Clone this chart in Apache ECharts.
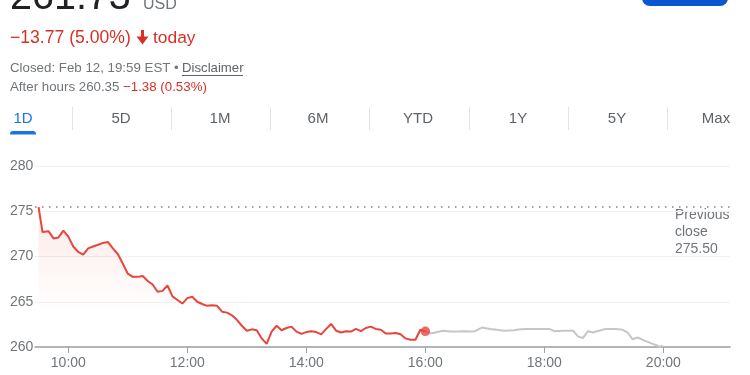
<!DOCTYPE html>
<html><head><meta charset="utf-8">
<script src="https://cdn.jsdelivr.net/npm/echarts@6/dist/echarts.min.js"></script>
<style>html,body{margin:0;padding:0;background:#fff;overflow:hidden}#c{width:750px;height:375px}</style>
</head><body><div id="c"></div>
<script>
// ---- data ----
const regularTimes = ['09:30','09:34','09:40','09:45','09:50','09:55','10:00','10:05','10:10','10:15','10:20','10:25','10:30','10:35','10:40','10:45','10:50','10:55','11:00','11:05','11:10','11:15','11:20','11:25','11:30','11:35','11:40','11:45','11:50','11:55','12:00','12:05','12:10','12:15','12:20','12:25','12:30','12:35','12:40','12:45','12:50','12:55','13:00','13:05','13:10','13:15','13:20','13:25','13:30','13:35','13:40','13:45','13:50','13:55','14:00','14:05','14:10','14:15','14:20','14:25','14:30','14:35','14:40','14:45','14:50','14:55','15:00','15:05','15:10','15:15','15:20','15:25','15:30','15:35','15:40','15:45','15:50','15:55','16:00'];
const regularValues = [275.45,272.7,272.8,272.0,272.1,272.85,272.2,271.1,270.5,270.2,270.9,271.1,271.3,271.5,271.6,270.9,270.25,269.2,268.1,267.75,267.75,267.85,267.3,266.9,266.1,266.2,266.8,265.6,265.2,264.8,265.4,265.55,265.0,264.75,264.55,264.6,264.55,263.9,263.8,263.5,263.0,262.35,261.8,261.95,261.85,260.95,260.35,261.7,262.35,261.85,262.1,262.25,261.7,261.45,261.65,261.75,261.65,261.4,262.0,262.55,261.8,261.6,261.75,261.7,262.0,261.75,262.1,262.25,262.0,261.9,261.5,261.5,261.55,261.4,260.95,260.8,260.8,261.9,261.73];
const afterTimes = ['16:00','16:05','16:10','16:18','16:25','16:32','16:38','16:45','16:50','16:57','17:05','17:12','17:19','17:29','17:36','17:42','17:52','18:05','18:10','18:19','18:29','18:34','18:39','18:44','18:49','18:55','19:02','19:12','19:19','19:24','19:29','19:34','19:41','19:48','19:53','19:57','19:59'];
const afterValues = [261.73,261.5,261.6,261.8,261.7,261.7,261.75,261.7,261.75,262.15,262.0,261.9,261.8,261.85,261.95,262.0,262.0,262.0,261.75,261.8,261.8,261.15,261.0,261.75,261.6,261.8,262.0,262.0,261.9,261.6,260.85,261.05,260.7,260.4,260.2,260.0,260.2];
const prevClose = 275.50;
const yMin = 260, yMax = 280, yStep = 5;
const xTickLabels = ['10:00','12:00','14:00','16:00','18:00','20:00'];
const tabs = ['1D','5D','1M','6M','YTD','1Y','5Y','Max'];
const priceText = '261.73';
const currencyText = 'USD';
const changeText = '\u221213.77 (5.00%)';
const closedText = 'Closed: Feb 12, 19:59 EST \u2022 ';
const afterLabel = 'After hours 260.35 ';
const afterChange = '\u22121.38 (0.53%)';

// ---- helpers ----
const toMin = t => { const p = t.split(':'); return (+p[0]) * 60 + (+p[1]); };
const fmt = m => String(Math.floor(m / 60)).padStart(2, '0') + ':' + String(Math.round(m % 60)).padStart(2, '0');
const regular = regularTimes.map((t, i) => [toMin(t), regularValues[i]]);
const after = afterTimes.map((t, i) => [toMin(t), afterValues[i]]);
const lastPt = regular[regular.length - 1];
const tickMins = xTickLabels.map(toMin);

const FONT = 'Liberation Sans, Arial, sans-serif';
const RED = '#d93025';
const LINE_RED = '#e8453c';
const GREY = '#70757a';

const g = [];
// header
g.push({type:'rect', shape:{x:642, y:-10, width:86, height:16, r:8}, style:{fill:'#0b57d0'}});
g.push({type:'text', x:10, y:-1.5, style:{text:priceText, font:'39.5px ' + FONT, fill:'#202124', verticalAlign:'middle'}});
g.push({type:'text', x:143, y:5, style:{text:currencyText, font:'16px ' + FONT, fill:GREY, verticalAlign:'middle'}});
g.push({type:'text', x:10, y:38, style:{text:changeText, font:'17.6px ' + FONT, fill:RED, verticalAlign:'middle'}});
g.push({type:'polygon', shape:{points:[[141,30],[144,30],[144,36.5],[148.5,36.5],[142.5,44.5],[136.5,36.5],[141,36.5]]}, style:{fill:RED}});
g.push({type:'text', x:153, y:38, style:{text:'today', font:'17.4px ' + FONT, fill:RED, verticalAlign:'middle'}});
g.push({type:'text', x:10, y:68, style:{text:closedText, font:'13.3px ' + FONT, fill:GREY, verticalAlign:'middle'}});
g.push({type:'text', x:182, y:68, style:{text:'Disclaimer', font:'13.2px ' + FONT, fill:'#5f6368', verticalAlign:'middle'}});
g.push({type:'line', shape:{x1:182, y1:75.5, x2:243, y2:75.5}, style:{stroke:'#5f6368', lineWidth:1}});
g.push({type:'text', x:10, y:87, style:{text:afterLabel, font:'13.3px ' + FONT, fill:GREY, verticalAlign:'middle'}});
g.push({type:'text', x:123, y:87, style:{text:afterChange, font:'13.3px ' + FONT, fill:RED, verticalAlign:'middle'}});
// tabs
const tabX = [23, 121, 220, 318, 418, 518, 617, 716];
const sepX = [72, 171, 270, 369, 469, 568, 667];
tabs.forEach((t, i) => {
  g.push({type:'text', x:tabX[i], y:119, style:{text:t, font:'15px ' + FONT, fill: i === 0 ? '#1a73e8' : '#5f6368', align:'center', verticalAlign:'middle'}});
});
sepX.forEach(x => g.push({type:'line', shape:{x1:x + 0.5, y1:107, x2:x + 0.5, y2:130}, style:{stroke:'#e3e3e3', lineWidth:1}}));
g.push({type:'rect', shape:{x:10, y:131, width:26, height:3.5, r:[3,3,0,0]}, style:{fill:'#1a73e8'}});
// previous close label
g.push({type:'text', x:675, y:206.5, style:{text:'Previous\nclose\n' + prevClose.toFixed(2), font:'14px ' + FONT, fill:GREY, lineHeight:17, verticalAlign:'top'}});

const chart = echarts.init(document.getElementById('c'), null, {renderer:'canvas'});
chart.setOption({
  animation:false,
  backgroundColor:'#fff',
  grid:{left:35, right:20, top:166, bottom:28, containLabel:false},
  xAxis:{
    type:'value', min:566.4, max:1267.2,
    axisLine:{show:true, lineStyle:{color:'#9aa0a6', width:1.5}},
    axisTick:{show:true, customValues:tickMins, length:6, lineStyle:{color:'#9aa0a6'}},
    axisLabel:{show:true, customValues:tickMins, formatter:v => fmt(v), color:GREY, fontSize:14, fontFamily:FONT, margin:9},
    splitLine:{show:false}
  },
  yAxis:{
    type:'value', min:yMin, max:yMax, interval:yStep,
    axisLine:{show:false}, axisTick:{show:false},
    axisLabel:{color:GREY, fontSize:14, fontFamily:FONT, align:'left', margin:25},
    splitLine:{show:true, lineStyle:{color:'#f1f1f1', width:1}}
  },
  graphic:g,
  series:[
    {
      type:'line', data:after, showSymbol:false, symbol:'none', z:2,
      lineStyle:{color:'#c6c6c6', width:2}, silent:true
    },
    {
      type:'line', data:regular, showSymbol:false, symbol:'none', z:3,
      lineStyle:{color:LINE_RED, width:2},
      areaStyle:{color:{type:'linear', x:0, y:0, x2:0, y2:1, colorStops:[
        {offset:0, color:'rgba(234,67,53,0.17)'},
        {offset:0.75, color:'rgba(234,67,53,0)'}
      ]}},
      markLine:{silent:true, symbol:['none','none'], label:{show:false},
        lineStyle:{color:'#80868b', width:1.5, type:[1.5,5.5]},
        data:[{yAxis:prevClose}]}
    },
    {
      type:'scatter', data:[lastPt], symbol:'circle', symbolSize:9.5, z:4,
      itemStyle:{color:LINE_RED}, silent:true
    }
  ]
});
</script></body></html>
